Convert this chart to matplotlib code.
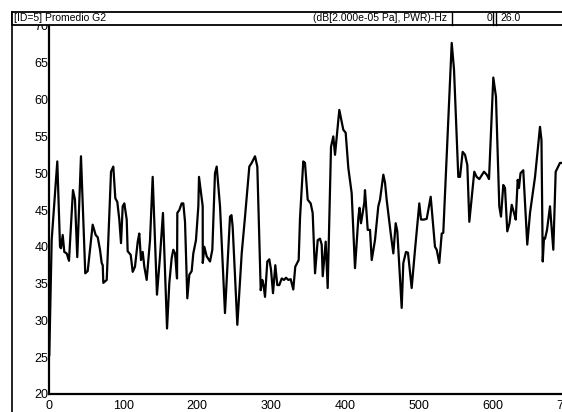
import matplotlib
matplotlib.use("Agg")
import matplotlib.pyplot as plt
from matplotlib.patches import Rectangle
from matplotlib.lines import Line2D

plt.rcParams['font.family'] = ['Liberation Sans Narrow', 'Liberation Sans', 'DejaVu Sans']

# spectrum (Hz, dB)
freq = [0, 3.2, 10.8, 14.5, 15.8, 18.1, 20.3, 23.5, 26.6, 32.0, 34.7, 37.8, 42.8, 48.6, 51.9,
        58.6, 62.7, 65.4, 68.5, 70.8, 72.2, 73.0, 77.6, 83.4, 86.5, 89.2, 91.9, 94.6, 96.9, 99.2,
        101.4, 104.6, 105.9, 110.0, 112.7, 115.8, 119.5, 121.6, 123.9, 126.2, 128.4, 131.6, 136.1,
        139.7, 145.5, 149.6, 153.6, 159.1, 162.2, 165.4, 167.6, 169.9, 172.6, 173.0, 175.7, 178.9,
        181.1, 183.4, 186.5, 189.2, 192.4, 194.6, 198.2, 201.4, 202.3, 207.3, 207.4, 209.5, 212.7,
        217.2, 220.3, 223.9, 226.2, 230.7, 237.4, 244.2, 246.2, 247.8, 254.1, 260.0, 264.5, 270.3,
        273.5, 278.0, 281.1, 285.7, 287.8, 289.5, 291.5, 294.6, 297.3, 299.6, 302.3, 305.4, 308.1,
        310.8, 314.1, 317.2, 319.9, 323.0, 326.2, 329.7, 332.4, 337.0, 338.8, 343.2, 345.5, 349.2,
        353.2, 355.9, 359.1, 362.7, 365.8, 368.1, 369.5, 373.5, 376.2, 380.7, 383.8, 386.1, 391.9,
        397.3, 400.5, 404.1, 408.6, 413.1, 417.6, 419.2, 421.2, 425.7, 426.6, 430.3, 433.4, 435.7,
        440.1, 444.6, 446.9, 451.4, 453.7, 455.9, 461.4, 464.9, 468.1, 470.3, 476.2, 478.4, 482.0,
        484.7, 489.7, 494.2, 500.0, 502.3, 506.4, 510.0, 515.4, 521.2, 523.5, 527.0, 530.3, 532.4,
        537.4, 543.8, 546.9, 552.7, 555.0, 558.6, 561.8, 564.9, 567.6, 574.3, 577.5, 581.1, 587.4,
        591.1, 594.2, 600.0, 603.6, 608.1, 610.4, 613.5, 615.8, 618.9, 621.9, 624.9, 628.0, 630.3,
        633.0, 634.7, 636.8, 640.5, 645.9, 649.6, 656.4, 663.1, 665.1, 666.8, 668.5, 669.9, 672.6,
        676.6, 681.1, 684.3, 690.1, 692.8, 700.0]
level = [25.3, 40.9, 51.6, 40.0, 39.8, 41.6, 39.3, 39.1, 38.1, 47.7, 46.4, 38.6, 52.3, 36.4, 36.7,
         43.0, 41.6, 41.3, 39.6, 37.8, 37.5, 35.1, 35.5, 50.2, 50.9, 46.6, 46.1, 43.7, 40.5, 45.5,
         45.9, 43.7, 39.4, 38.9, 36.6, 37.3, 40.7, 41.8, 38.2, 39.3, 37.3, 35.5, 40.9,
         49.5, 33.5, 38.7, 44.6, 28.9, 35.1, 38.5, 39.6, 39.1, 35.7, 44.6, 45.0, 45.9,
         45.9, 43.4, 33.0, 36.2, 36.7, 39.1, 40.9, 45.5, 49.5, 45.5, 37.8, 40.0, 38.7,
         38.0, 39.6, 50.0, 50.9, 45.5, 31.0, 44.1, 44.3, 42.7, 29.4, 39.1, 44.1, 50.9,
         51.4, 52.3, 50.9, 34.1, 35.5, 34.8, 33.2, 38.0, 38.3, 36.9, 33.7, 37.5, 34.8,
         34.8, 35.7, 35.5, 35.8, 35.5, 35.6, 34.2, 37.3, 38.2, 43.9, 51.6, 51.4, 46.4,
         45.9, 44.6, 36.4, 40.9, 41.1, 40.3, 36.0, 40.7, 34.4, 53.6, 55.0, 52.5, 58.6,
         55.9, 55.5, 50.7, 47.3, 37.1, 43.9, 45.3, 43.2, 46.0, 47.7, 42.3, 42.3, 38.2,
         40.9, 45.5, 46.4, 49.8, 48.7, 46.4, 41.8, 39.1, 43.2, 42.1, 31.7, 37.8, 39.3,
         39.2, 34.4, 39.6, 45.9, 43.7, 43.7, 43.8, 46.8, 40.0, 39.6, 37.8, 41.8, 41.9,
         53.2, 67.7, 64.1, 49.5, 49.5, 52.9, 52.5, 51.1, 43.4, 50.2, 49.5, 49.2, 50.2,
         49.8, 49.2, 63.0, 60.4, 45.5, 44.1, 48.4, 48.0, 42.1, 43.2, 45.7, 44.6, 43.7,
         49.1, 48.0, 50.0, 50.4, 40.3, 44.6, 49.5, 56.3, 54.5, 38.0, 41.2, 41.1, 42.3,
         45.5, 39.6, 50.2, 51.4, 51.4, 51.0]

xticks = [0, 100, 200, 300, 400, 500, 600, 700]
yticks = [20, 25, 30, 35, 40, 45, 50, 55, 60, 65, 70]

W, H = 562, 412
fig = plt.figure(figsize=(W / 100, H / 100), dpi=100)

# plot area (runs past the right edge like the original)
x0, x1, y0, y1 = 49.3, 49.3 + 710 * 0.74, 394, 26
ax = fig.add_axes([x0 / W, 1 - y0 / H, (x1 - x0) / W, (y0 - y1) / H])
ax.plot(freq, level, color="black", lw=1.6)
ax.set_xlim(0, 710)
ax.set_ylim(20, 70)
ax.set_xticks(xticks)
ax.set_yticks(yticks)
ax.tick_params(length=0, labelsize=9, pad=0.5)
ax.tick_params(axis="x", pad=4)
for s in ["top", "right"]:
    ax.spines[s].set_visible(False)
for s in ["left", "bottom"]:
    ax.spines[s].set_linewidth(1.6)

# outer frame + header bar
def fx(p):
    return p / W

def fy(p):
    return 1 - p / H

fig.add_artist(Line2D([fx(11.7), fx(11.7)], [fy(11.7), 0], color="black", lw=1.2, zorder=5))
fig.add_artist(Rectangle((fx(11.7), fy(24.5)), 1.2, (24.5 - 11.7) / H, facecolor="white",
                         edgecolor="black", lw=1.3, zorder=5))
for xs in [451.7, 493.3, 495.7]:
    fig.add_artist(Line2D([fx(xs), fx(xs)], [fy(11.7), fy(24.5)], color="black", lw=1.0, zorder=6))

fig.text(fx(13.5), fy(18.4), "[ID=5] Promedio G2", ha="left", va="center", fontsize=7.5, zorder=7)
fig.text(fx(447), fy(18.4), "(dB[2.000e-05 Pa], PWR)-Hz", ha="right", va="center", fontsize=7.5, zorder=7)
fig.text(fx(492), fy(18.4), "0", ha="right", va="center", fontsize=7.5, zorder=7)
fig.text(fx(500), fy(18.4), "26.0", ha="left", va="center", fontsize=7.5, zorder=7)

fig.savefig("out.png", dpi=100)
